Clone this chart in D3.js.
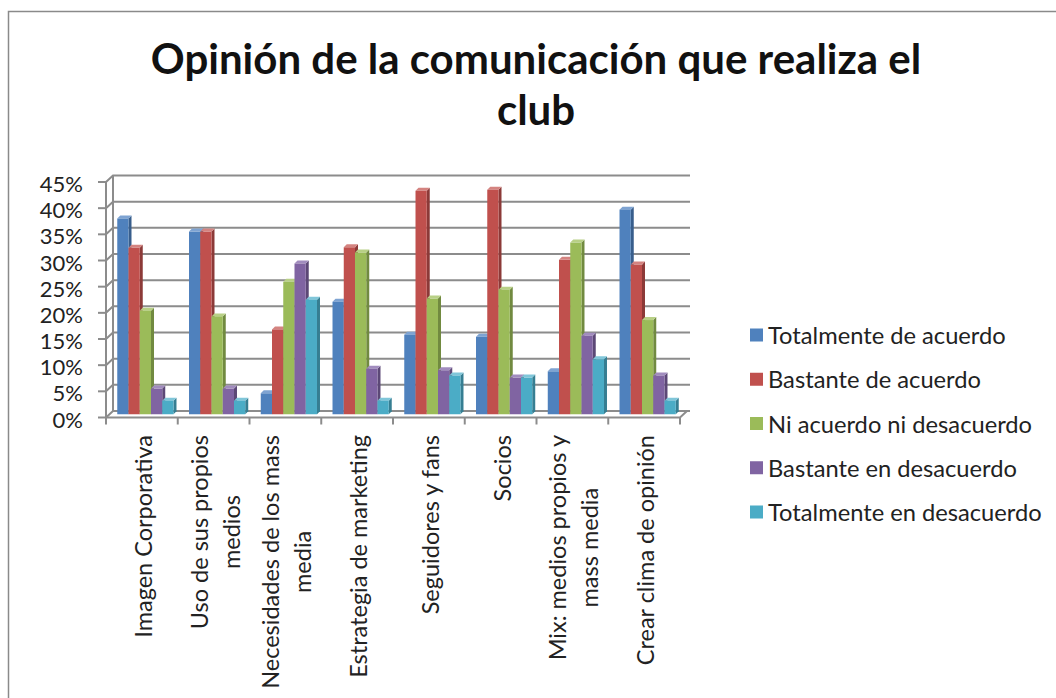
<!DOCTYPE html>
<html>
<head>
<meta charset="utf-8">
<script src="https://cdn.jsdelivr.net/npm/d3@7"></script>
<style>
  html, body { margin: 0; padding: 0; background: #fff; }
  svg { display: block; }
  text { font-family: Lato, "Open Sans", sans-serif; fill: #222; }
</style>
</head>
<body>
<svg id="chart" width="1056" height="698"></svg>
<script>
// ---- data ----
const title = ["Opinión de la comunicación que realiza el", "club"];
const categories = [
  "Imagen Corporativa",
  "Uso de sus propios medios",
  "Necesidades de los mass media",
  "Estrategia de marketing",
  "Seguidores y fans",
  "Socios",
  "Mix: medios propios y mass media",
  "Crear clima de opinión"
];
const categoryLines = [
  ["Imagen Corporativa"],
  ["Uso de sus propios", "medios"],
  ["Necesidades de los mass", "media"],
  ["Estrategia de marketing"],
  ["Seguidores y fans"],
  ["Socios"],
  ["Mix: medios propios y", "mass media"],
  ["Crear clima de opinión"]
];
const seriesNames = [
  "Totalmente de acuerdo",
  "Bastante de acuerdo",
  "Ni acuerdo ni desacuerdo",
  "Bastante en desacuerdo",
  "Totalmente en desacuerdo"
];
const totalmenteAcuerdo    = [37.4, 34.9, 4.0, 21.5, 15.2, 14.8, 8.2, 39.1];
const bastanteAcuerdo      = [31.8, 34.9, 16.2, 31.9, 42.7, 42.9, 29.5, 28.6];
const niAcuerdo            = [19.8, 18.7, 25.3, 30.9, 22.1, 23.8, 32.8, 18.0];
const bastanteDesacuerdo   = [4.9, 4.9, 28.8, 8.7, 8.4, 7.0, 15.0, 7.4];
const totalmenteDesacuerdo = [2.6, 2.6, 21.9, 2.6, 7.4, 7.0, 10.5, 2.6];
const seriesValues = [totalmenteAcuerdo, bastanteAcuerdo, niAcuerdo, bastanteDesacuerdo, totalmenteDesacuerdo];
const yTicks = [0, 5, 10, 15, 20, 25, 30, 35, 40, 45];

const frontColors = ["#4F81BD", "#C0504D", "#9BBB59", "#8064A2", "#4BACC6"];
const sideColors  = ["#385E8C", "#8C3A38", "#718A40", "#5C4876", "#367E92"];
const topColors   = ["#7EA3D2", "#D48380", "#B8D086", "#A18CBE", "#80C6D9"];

// ---- layout ----
const svg = d3.select("#chart");
const left = 106, right = 680, yBase = 417.5, yTop = 182;
const depth = { dx: 7, dy: -6.5 };
const barOff = { dx: 3.5, dy: -3.25 };
const barDepth = { dx: 3, dy: -3 };

const y = d3.scaleLinear().domain([0, 45]).range([yBase, yTop]);
const x0 = d3.scaleBand().domain(categories).range([left, right]).padding(0);
const x1 = d3.scaleBand().domain(seriesNames).range([0, x0.bandwidth()])
  .paddingInner(0).paddingOuter(0.69);

// border
svg.append("path").attr("d", "M8.5,698 V11.5 H1056")
  .attr("fill", "none").attr("stroke", "#8a8a8a").attr("stroke-width", 1.5);

// title
svg.append("text").attr("x", 536).attr("y", 74).attr("text-anchor", "middle")
  .attr("font-size", 42).attr("font-weight", "bold").style("fill", "#111").text(title[0]);
svg.append("text").attr("x", 536).attr("y", 125).attr("text-anchor", "middle")
  .attr("font-size", 42).attr("font-weight", "bold").style("fill", "#111").text(title[1]);

// walls
const grid = svg.append("g").attr("stroke", "#8c8c8c").attr("stroke-width", 2).attr("fill", "none");
yTicks.forEach(t => {
  const yf = y(t), yb = y(t) + depth.dy;
  grid.append("path").attr("d", `M${left},${yf} L${left + depth.dx},${yb} L${right + depth.dx + 3},${yb}`);
});
grid.append("line").attr("x1", left + depth.dx).attr("x2", left + depth.dx)
  .attr("y1", y(45) + depth.dy).attr("y2", y(0) + depth.dy);
grid.append("path").attr("d", `M${left},${yBase} L${right},${yBase} L${right + depth.dx},${yBase + depth.dy}`);

// front vertical axis
const axisG = svg.append("g").attr("stroke", "#8c8c8c").attr("stroke-width", 2);
axisG.append("line").attr("x1", left).attr("x2", left).attr("y1", y(45)).attr("y2", yBase);
yTicks.forEach(t => {
  axisG.append("line").attr("x1", left - 8).attr("x2", left).attr("y1", y(t)).attr("y2", y(t));
});
d3.range(categories.length + 1).forEach(i => {
  const xx = left + i * x0.step();
  axisG.append("line").attr("x1", xx).attr("x2", xx).attr("y1", yBase).attr("y2", yBase + 7);
});

// y tick labels
svg.append("g").selectAll("text").data(yTicks).join("text")
  .attr("x", 83).attr("y", d => y(d) + 1.5)
  .attr("text-anchor", "end").attr("dominant-baseline", "central")
  .attr("font-size", 22).text(d => d + "%");

// bars
const barsG = svg.append("g");
categories.forEach((cat, ci) => {
  seriesNames.forEach((s, si) => {
    const v = seriesValues[si][ci];
    const bx = x0(cat) + x1(s) + barOff.dx;
    const w = x1.bandwidth();
    const by0 = y(0) + barOff.dy;
    const byv = y(v) + barOff.dy;
    const g = barsG.append("g");
    g.append("path").attr("d",
      `M${bx + w},${byv} L${bx + w + barDepth.dx},${byv + barDepth.dy} L${bx + w + barDepth.dx},${by0 + barDepth.dy} L${bx + w},${by0} Z`)
      .attr("fill", sideColors[si]);
    g.append("path").attr("d",
      `M${bx},${byv} L${bx + barDepth.dx},${byv + barDepth.dy} L${bx + w + barDepth.dx},${byv + barDepth.dy} L${bx + w},${byv} Z`)
      .attr("fill", topColors[si]);
    g.append("rect").attr("x", bx).attr("y", byv).attr("width", w).attr("height", by0 - byv)
      .attr("fill", frontColors[si]);
  });
});

// category labels
const labelFont = 23.5, lineH = 32;
categories.forEach((cat, ci) => {
  const lines = categoryLines[ci];
  const cx = x0(cat) + x0.bandwidth() / 2 + 1;
  const n = lines.length;
  const t = svg.append("text")
    .attr("transform", `translate(${cx - (n - 1) * lineH / 2},435) rotate(-90)`)
    .attr("font-size", labelFont).attr("text-anchor", "middle")
    .attr("dominant-baseline", "central");
  const spans = lines.map((ln, li) => t.append("tspan").attr("x", 0).attr("y", li * lineH).text(ln));
  const maxW = d3.max(spans, sp => sp.node().getComputedTextLength());
  spans.forEach(sp => sp.attr("x", -maxW / 2));
});

// legend
const lg = svg.append("g");
seriesNames.forEach((s, i) => {
  const cy = 335 + i * 44.25;
  lg.append("rect").attr("x", 750).attr("y", cy - 6.5).attr("width", 13).attr("height", 13)
    .attr("fill", frontColors[i]);
  lg.append("text").attr("x", 768).attr("y", cy).attr("dominant-baseline", "central")
    .attr("font-size", 23.7).text(s);
});
</script>
</body>
</html>
